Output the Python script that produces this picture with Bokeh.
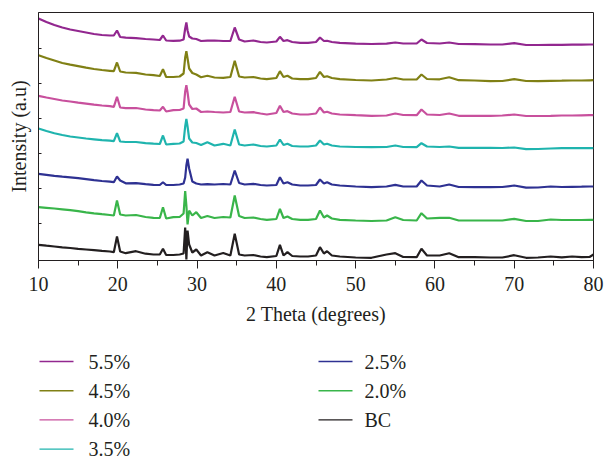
from bokeh.plotting import figure
from bokeh.models import (Range1d, SingleIntervalTicker, FixedTicker, CustomJSTickFormatter)
from bokeh.core.properties import value
from bokeh.layouts import column
from bokeh.embed import file_html
from bokeh.resources import INLINE

# 2 theta grid (degrees)
two_theta = [
    10, 11, 12, 13, 14, 15, 16, 17, 18, 19,
    19.5, 19.9, 20.3, 21, 22.3, 23.5, 24.5, 25.3, 25.7, 26.1,
    27, 27.8, 28.3, 28.5, 28.65, 28.8, 29.0, 29.4, 29.9, 30.5,
    31.3, 32.2, 33.3, 34.2, 34.75, 35.3, 36, 37.1, 38, 38.8,
    40.0, 40.45, 40.9, 41.4, 42, 43, 44, 45.0, 45.5, 46.0,
    46.4, 47, 48, 50, 52, 53.9, 55.0, 56, 57.7, 58.3,
    59, 60.6, 61.8, 63, 65, 67, 68.5, 70, 71.5, 73,
    74.6, 76, 77.3, 78.5, 79.5, 80,
]

# stacked intensities (a.u.)
i_55 = [
    242, 238.5, 235.5, 233, 231, 229.5, 228, 226.5, 225.5, 225,
    225, 230, 223.5, 222.8, 222.3, 221.5, 221, 220.5, 225, 220,
    219.7, 219.8, 221, 232, 238, 230, 224, 222, 221.5, 219.5,
    219.8, 220, 219.5, 219.5, 233, 221, 219, 220, 218.5, 218,
    219, 223.7, 219.5, 220.3, 218.5, 217.7, 217.7, 218.5, 223, 219.5,
    219.7, 218.5, 217.7, 216.8, 216.5, 216.8, 218, 217, 217, 221,
    217.5, 217, 218, 216.5, 216.3, 216, 216, 217.3, 215.5, 215.5,
    215.7, 215.7, 215.8, 215.8, 216, 216,
]
i_45 = [
    205.3, 202.5, 200, 197.5, 195.8, 194.3, 192.8, 191.5, 190.5, 189.7,
    189.3, 198, 189, 188, 187.7, 186, 185.3, 184.5, 191.3, 183.5,
    183.5, 184, 187, 203, 209.3, 202, 192, 187.5, 186, 183.3,
    184.7, 183, 182.7, 183.5, 199.7, 184, 183, 183.5, 182, 181.3,
    182.5, 189.3, 183.5, 184.7, 182, 181.3, 181.3, 182.5, 188.7, 183.5,
    184.3, 182.5, 181.3, 180.5, 180, 181, 182.5, 181, 181, 186,
    181.5, 181.2, 183.3, 180.3, 180, 179.3, 179.5, 181.3, 179.5, 179.3,
    179.6, 179.8, 180, 180, 180.2, 180.3,
]
i_40 = [
    164.7, 163, 161.5, 160, 159, 157.8, 156.8, 155.8, 155, 154.3,
    153.7, 163.7, 153, 152.3, 152.5, 151, 150.3, 150, 153.7, 149,
    150.3, 150.5, 152, 169, 175.3, 168, 156, 151.5, 152, 148.5,
    149, 148.5, 148, 148.5, 163.7, 149, 148, 148.3, 147, 146,
    147.5, 154.7, 148.5, 149.3, 147, 146, 146, 147, 153, 148,
    148.7, 147, 146, 145.3, 144.7, 145, 147, 145.5, 145.3, 151,
    146, 145.5, 147, 144.7, 144.7, 144.7, 145, 146, 144.5, 144.5,
    144.7, 145, 145, 145.2, 145.3, 145.3,
]
i_35 = [
    132, 129.5, 127.3, 125.5, 124, 123, 122, 121.2, 120.4, 119.8,
    119.3, 127.3, 119, 118.5, 118.5, 117.3, 116.8, 116.5, 125, 116,
    116.7, 117, 119, 134, 141.7, 134, 122, 118, 117.5, 115.5,
    118.3, 115, 116.7, 115, 131, 116, 115, 116, 114.5, 114,
    115, 121, 115.5, 116.7, 114.5, 114, 114, 115, 120, 116,
    116.7, 115, 114, 113.5, 113.3, 113.5, 115, 113.5, 113.3, 117.3,
    114, 113.5, 114, 112.7, 112.7, 112.7, 112.5, 113, 111.3, 111.5,
    112, 112.3, 112.3, 112.3, 112.3, 112.3,
]
i_25 = [
    86.7, 85.7, 84.7, 83.9, 83.2, 82.3, 81.3, 80.3, 79.5, 78.8,
    78.3, 84, 80, 77.2, 77.3, 76.3, 75.7, 75.5, 78.3, 75.5,
    75.5, 76, 77, 83, 95, 101.7, 92, 79, 77, 76,
    76.3, 76, 76.5, 76, 90, 77.5, 76, 76.7, 75.5, 75,
    75.5, 83.3, 77, 78.3, 76, 75, 75, 75.5, 81, 77,
    78.3, 76, 75, 74, 73.3, 74, 75.7, 74, 74, 80,
    75, 74, 76, 73.5, 73.3, 73.3, 73.5, 75, 72.8, 73,
    74, 73.5, 73.7, 73.8, 74, 74,
]
i_20 = [
    53.3, 52.7, 52, 51.2, 50.4, 49.3, 48.2, 47.2, 46.3, 45.5,
    45, 60, 46, 45, 45.5, 43.5, 42.7, 42.5, 53.3, 42,
    43.3, 43.5, 47, 69.3, 55, 36, 50, 45, 48.3, 42.5,
    44.5, 42.5, 43.5, 43, 65, 44.5, 42.5, 43, 41.5, 40.7,
    41.5, 51.7, 42.5, 44, 41.5, 40.7, 40.7, 41.5, 50, 43,
    45, 42, 40.7, 40, 39.5, 40, 43.3, 40.5, 40, 47.3,
    42, 42.7, 42.7, 40, 40, 40, 40, 41.7, 39.5, 39.5,
    41, 40.5, 40.5, 40.5, 40.7, 40.7,
]
i_bc = [
    15.7, 14.8, 14, 13.2, 12.5, 11.7, 11, 10.3, 9.6, 9,
    8.3, 24, 9, 7.3, 9.3, 6.8, 6, 6, 11.7, 5.5,
    5.5, 6, 7, 33, 1, 30, 16, 8, 11, 5,
    8.3, 5, 7.5, 5, 26.7, 6, 5, 5.5, 4, 3.3,
    4.5, 15.7, 5, 8.3, 4.5, 4, 4, 5, 13.3, 7,
    9.3, 5, 4, 3, 2.7, 6, 7.3, 3.5, 3.3, 11.7,
    5, 5, 7.3, 3.3, 3.3, 3, 3, 5.3, 2.7, 3,
    4, 3.2, 4, 3.3, 3.5, 6,
]

labels = ["5.5%", "4.5%", "4.0%", "3.5%", "2.5%", "2.0%", "BC"]
series = [i_55, i_45, i_40, i_35, i_25, i_20, i_bc]
colors = ["#92278f", "#808015", "#c8509d", "#1fb4ae", "#2e3192", "#39b54a", "#231f20"]
y_ticks = [37, 72, 107.5, 142, 177, 212]

FONT = "Liberation Serif"
INK = "#231f20"

p = figure(width=607, height=340, output_backend="svg", toolbar_location=None,
           x_range=Range1d(10, 80), y_range=Range1d(0, 248),
           min_border_left=38, min_border_right=14, min_border_top=12,
           min_border_bottom=80)
p.background_fill_color = "white"
p.border_fill_color = "white"
p.grid.visible = False
p.outline_line_color = INK
p.outline_line_width = 1

for vals, c in zip(series, colors):
    p.line(two_theta, vals, line_color=c, line_width=2.2)

xa = p.xaxis[0]
xa.ticker = SingleIntervalTicker(interval=10, num_minor_ticks=2)
xa.axis_label = "2 Theta (degrees)"
xa.axis_line_color = INK
xa.major_tick_line_color = INK
xa.minor_tick_line_color = INK
xa.major_tick_out = 8
xa.major_tick_in = 0
xa.minor_tick_out = 5
xa.minor_tick_in = 0
xa.major_label_text_font = FONT
xa.major_label_text_font_size = "20px"
xa.major_label_text_color = INK
xa.major_label_standoff = 8
xa.axis_label_text_font = FONT
xa.axis_label_text_font_size = "20px"
xa.axis_label_text_font_style = "normal"
xa.axis_label_text_color = INK
xa.axis_label_standoff = 9

ya = p.yaxis[0]
ya.ticker = FixedTicker(ticks=y_ticks, minor_ticks=[])
ya.formatter = CustomJSTickFormatter(code="return ''")
ya.axis_label = "Intensity (a.u)"
ya.axis_line_color = INK
ya.major_tick_line_color = INK
ya.major_tick_in = 3
ya.major_tick_out = 0
ya.minor_tick_line_color = None
ya.major_label_standoff = 0
ya.axis_label_text_font = FONT
ya.axis_label_text_font_size = "20px"
ya.axis_label_text_font_style = "normal"
ya.axis_label_text_color = INK
ya.axis_label_standoff = 9

# legend panel (drawn with glyphs; frame is aligned with the plot frame,
# so x in page pixels 38..593, y measured downward from panel top)
q = figure(width=607, height=120, output_backend="svg", toolbar_location=None,
           x_range=Range1d(38, 593), y_range=Range1d(120, 0),
           min_border_left=38, min_border_right=14, min_border_top=0, min_border_bottom=0)
q.axis.visible = False
q.grid.visible = False
q.outline_line_color = None
q.background_fill_color = "white"
q.border_fill_color = "white"

n_first = 4
col_x = [39, 318]
row_y0, row_dy = 21, 29.2
seg_x0, seg_x1, txt_x = [], [], []
seg_y = []
for i, lab in enumerate(labels):
    col = 0 if i < n_first else 1
    row = i if i < n_first else i - n_first
    seg_x0.append(col_x[col])
    seg_x1.append(col_x[col] + 34)
    txt_x.append(col_x[col] + 49 if col == 0 else col_x[col] + 46)
    seg_y.append(row_y0 + row_dy * row)

q.segment(x0=seg_x0, y0=seg_y, x1=seg_x1, y1=seg_y, line_color=colors, line_width=1.4)
q.text(x=txt_x, y=seg_y, text=labels, text_font=value(FONT), text_font_size="20px",
       text_color=INK, text_baseline="middle", text_align="left")

open("out.html", "w").write(file_html(column(p, q, spacing=0), INLINE))
